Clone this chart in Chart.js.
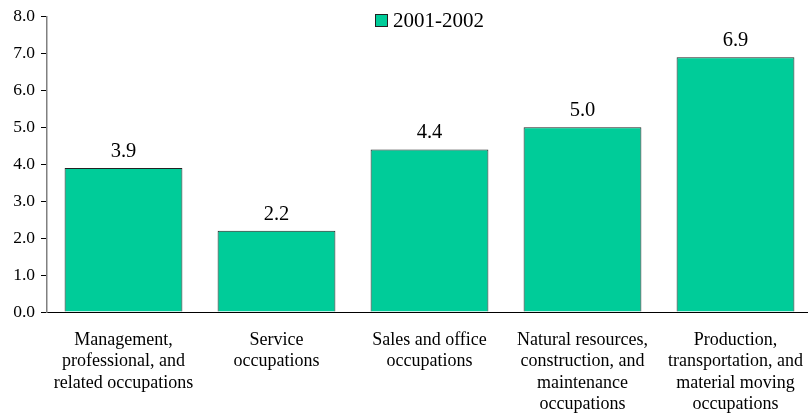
<!DOCTYPE html>
<html>
<head>
<meta charset="utf-8">
<script src="https://cdn.jsdelivr.net/npm/chart.js@4"></script>
<style>
  html, body { margin: 0; padding: 0; background: #fff; overflow: hidden; }
  #wrap { width: 812px; height: 419px; }
</style>
</head>
<body>
<div id="wrap"><canvas id="myChart"></canvas></div>
<script>
const categories = [
  ["Management,", "professional, and", "related occupations"],
  ["Service", "occupations"],
  ["Sales and office", "occupations"],
  ["Natural resources,", "construction, and", "maintenance", "occupations"],
  ["Production,", "transportation, and", "material moving", "occupations"],
];
const seriesName = "2001-2002";
const values = [3.9, 2.2, 4.4, 5.0, 6.9];
const yTicks = [0, 1, 2, 3, 4, 5, 6, 7, 8];

const barColor = "#00CC99";
const serif = "'Liberation Serif', 'Times New Roman', serif";

// value labels above each bar
const valueLabels = {
  id: "valueLabels",
  afterDatasetsDraw(chart) {
    const c = chart.ctx;
    c.save();
    c.font = "20.5px " + serif;
    c.fillStyle = "#000";
    c.textAlign = "center";
    c.textBaseline = "alphabetic";
    chart.getDatasetMeta(0).data.forEach((bar, i) => {
      c.fillText(values[i].toFixed(1), bar.x, bar.y - 11);
    });
    c.restore();
  },
};

// legend sits inside the plot, so draw it by hand
const innerLegend = {
  id: "innerLegend",
  afterDraw(chart) {
    const c = chart.ctx;
    c.save();
    c.fillStyle = barColor;
    c.strokeStyle = "#222";
    c.lineWidth = 1;
    c.fillRect(375.5, 14.5, 12, 12);
    c.strokeRect(375.5, 14.5, 12, 12);
    c.font = "21px " + serif;
    c.fillStyle = "#000";
    c.textBaseline = "alphabetic";
    c.fillText(seriesName, 393, 27);
    c.restore();
  },
};

const ctx = document.getElementById("myChart");
const chart = new Chart(ctx, {
  type: "bar",
  data: {
    labels: categories,
    datasets: [
      {
        label: seriesName,
        data: values,
        backgroundColor: barColor,
        borderColor: "#222",
        borderWidth: 1,
        barPercentage: 0.77,
        categoryPercentage: 1,
      },
    ],
  },
  options: {
    responsive: true,
    maintainAspectRatio: false,
    animation: false,
    layout: { padding: { top: 7, right: 0, left: 0, bottom: 0 } },
    plugins: {
      legend: { display: false },
      tooltip: { enabled: false },
    },
    scales: {
      x: {
        grid: { display: false, drawTicks: false },
        border: { color: "#000", width: 1 },
        ticks: {
          color: "#000",
          font: { family: serif, size: 18, lineHeight: 1.2 },
          padding: 17,
          maxRotation: 0,
          autoSkip: false,
        },
        afterFit(scale) {
          scale.height = 107;
          scale.paddingLeft = 0;
          scale.paddingRight = 0;
        },
      },
      y: {
        min: 0,
        max: 8,
        afterBuildTicks(scale) {
          scale.ticks = yTicks.map((v) => ({ value: v }));
        },
        grid: {
          drawOnChartArea: false,
          drawTicks: true,
          tickLength: 6,
          color: "#000",
        },
        border: { color: "#808080", width: 1.5 },
        ticks: {
          color: "#000",
          font: { family: serif, size: 17.5 },
          padding: 6,
          callback: (v) => Number(v).toFixed(1),
        },
        afterFit(scale) {
          scale.width = 47;
        },
      },
    },
  },
  plugins: [valueLabels, innerLegend],
});
</script>
</body>
</html>
